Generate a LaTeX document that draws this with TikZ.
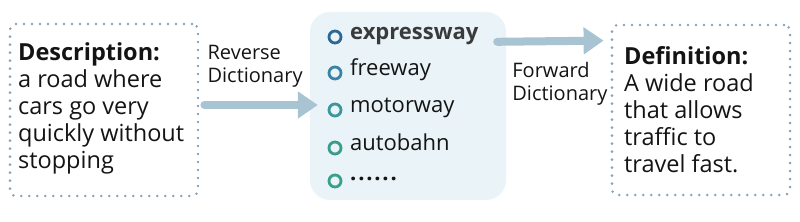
\documentclass[tikz,border=0pt]{standalone}
\usepackage{fontspec}
\setmainfont{Open Sans}
\usetikzlibrary{arrows.meta, positioning, calc}
\definecolor{dotline}{RGB}{138,160,180}
\definecolor{listbg}{RGB}{234,243,247}
\definecolor{flowcol}{RGB}{168,196,210}
\definecolor{txt}{RGB}{20,20,20}
\definecolor{boldtxt}{RGB}{58,58,58}
\definecolor{bulletA}{RGB}{44,104,150}
\definecolor{bulletB}{RGB}{56,132,166}
\definecolor{bulletC}{RGB}{58,152,156}
\definecolor{bulletD}{RGB}{58,156,140}
\definecolor{bulletE}{RGB}{58,160,136}
\tikzset{
  dotbox/.style={draw=dotline, line width=2.8pt, dash pattern=on 0pt off 8pt,
    line cap=round, rounded corners=6pt, inner sep=0pt},
  bodytext/.style={text=txt, font=\fontsize{23.5}{27}\selectfont, align=left},
  dictlabel/.style={text=txt, font=\fontsize{20}{23}\selectfont, align=left, inner sep=2pt},
  flow/.style={draw=flowcol, line width=8pt, line cap=round,
    -{Triangle[length=20pt, width=26pt]}},
  bullet/.style={circle, draw, line width=2.8pt, minimum size=12pt, inner sep=0pt},
  wordtext/.style={text=txt, font=\fontsize{22}{26}\selectfont, inner sep=0pt},
}
\newcommand{\moredots}{\textbf{\raisebox{0.3ex}{.\kern1.8pt.\kern1.8pt.\kern1.8pt.\kern1.8pt.\kern1.8pt.}}}
\begin{document}
\begin{tikzpicture}[x=1pt, y=1pt]
  \useasboundingbox (0,0) rectangle (800,222);
  % the three boxes
  \node[dotbox, minimum width=188pt, minimum height=172pt] (desc) at (104,112) {};
  \node[fill=listbg, rounded corners=20pt, minimum width=196pt, minimum height=188pt] (list) at (408,116) {};
  \node[dotbox, minimum width=178pt, minimum height=170pt] (defn) at (701,112) {};
  % box texts
  \node[bodytext, anchor=north west] (desctext) at ([shift={(6pt,-17pt)}]desc.north west)
    {\textbf{Description:}\\a road where\\cars go very\\quickly without\\stopping};
  \node[bodytext, anchor=north west] (defntext) at ([shift={(10pt,-19pt)}]defn.north west)
    {\textbf{Definition:}\\A wide road\\that allows\\traffic to\\travel fast.};
  % candidate words
  \foreach \i/\col/\yy/\word in {1/bulletA/185/{\textcolor{boldtxt}{\textbf{expressway}}},
      2/bulletB/149/freeway, 3/bulletC/112/motorway, 4/bulletD/74/autobahn, 5/bulletE/41/\moredots} {
    \node[bullet, draw=\col] (b\i) at (335,\yy) {};
    \node[wordtext, right=15pt of b\i.center, anchor=mid west] (w\i) {\word};
  }
  % arrows and their labels
  \draw[flow] ([shift={(5pt,5pt)}]desc.east) -- ([shift={(8pt,1pt)}]list.west);
  \draw[flow] ([shift={(-9pt,-30pt)}]list.north east) -- ([shift={(-7pt,-17pt)}]defn.north west);
  \node[dictlabel, anchor=south west] (rev) at ([shift={(6pt,20pt)}]desc.east) {Reverse\\Dictionary};
  \node[dictlabel, anchor=north west] (fwd) at ([shift={(4pt,-48pt)}]list.north east) {Forward\\Dictionary};
\end{tikzpicture}
\end{document}
